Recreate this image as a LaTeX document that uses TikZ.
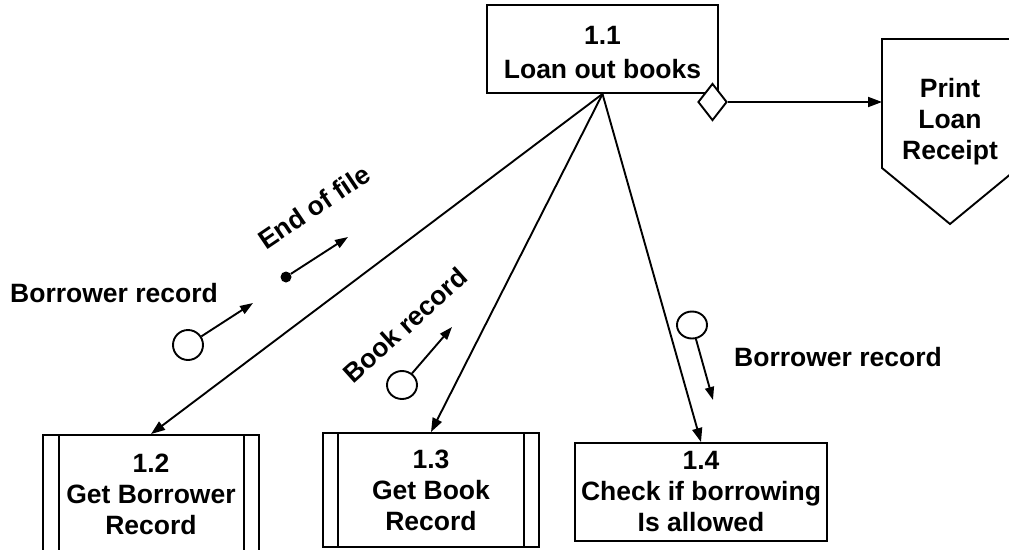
\documentclass[tikz,border=0pt]{standalone}
\usepackage{fontspec}
\setmainfont{Liberation Sans}
\usetikzlibrary{arrows.meta,shapes.geometric,calc}
\begin{document}
\begin{tikzpicture}[x=1pt,y=-1pt,
  every node/.style={font=\fontsize{26.5}{31}\selectfont\bfseries, align=center},
  proc/.style={draw, line width=1.9pt, inner sep=0pt},
  edge/.style={line width=1.9pt},
  flow/.style={line width=1.9pt, -{Triangle[length=14pt,width=10pt]}},
  couple/.style={line width=1.9pt, -{Triangle[length=13pt,width=9pt]}},
  datacouple/.style={draw, ellipse, line width=1.9pt, fill=white, minimum width=30pt, minimum height=30pt, inner sep=0pt},
  flagcouple/.style={circle, fill=black, inner sep=0pt, minimum size=11pt}]
\useasboundingbox (0,0) rectangle (1009,549);
\clip (0,0) rectangle (1009,549);

% top module
\node[proc, minimum width=231pt, minimum height=88pt] (b11) at (602.5,49) {};
\node (t11) at (602.5,53) {1.1\\[3pt]Loan out books};

% output module (pentagon, running past the right edge)
\draw[edge] (882,39) -- (1018,39) -- (1018,168) -- (950,224) -- (882,168) -- cycle;
\coordinate (plrin) at (882,102);
\node (plr) at (950,122) {Print\\Loan\\Receipt};

% condition diamond and its call
\node[draw, diamond, line width=1.9pt, fill=white, inner sep=0pt,
      minimum width=29pt, minimum height=37pt] (dm) at (712.5,102) {};
\draw[flow] (dm.east) -- (plrin);

% lower modules
\node[proc, minimum width=216pt, minimum height=130pt] (b12) at (151,500) {};
\draw[edge] ($(b12.north west)+(17,0)$) -- ($(b12.south west)+(17,0)$);
\draw[edge] ($(b12.north east)+(-16,0)$) -- ($(b12.south east)+(-16,0)$);
\node (t12) at (151,494) {1.2\\Get Borrower\\Record};

\node[proc, minimum width=216pt, minimum height=114pt] (b13) at (431,490) {1.3\\Get Book\\Record};
\draw[edge] ($(b13.north west)+(16,0)$) -- ($(b13.south west)+(16,0)$);
\draw[edge] ($(b13.north east)+(-16,0)$) -- ($(b13.south east)+(-16,0)$);

\node[proc, minimum width=252pt, minimum height=98pt] (b14) at (701,492) {1.4\\Check if borrowing\\Is allowed};

% calls
\draw[flow] (b11.south) -- (b12.north);
\draw[flow] (b11.south) -- (b13.north);
\draw[flow] (b11.south) -- (b14.north);

% couples
\node[datacouple] (s1) at (188,345) {};
\coordinate (s1e) at (253,303);
\draw[couple] (s1) -- (s1e);

\node[flagcouple] (eof) at (286,277) {};
\coordinate (eofe) at (348,237);
\draw[couple] (eof) -- (eofe);

\node[datacouple, minimum height=28pt] (s2) at (402,385) {};
\coordinate (s2e) at (452,327);
\draw[couple] (s2) -- (s2e);

\node[datacouple, minimum height=27pt] (s3) at (692,325) {};
\coordinate (s3e) at (713,400);
\draw[couple] (s3) -- (s3e);

% couple labels
\node[anchor=base] (l1) at (114,302) {Borrower record};
\node[anchor=base] (l4) at (838,366) {Borrower record};
\node[rotate=34] (l2) at (314,207) {End of file};
\node[rotate=42] (l3) at (405,325) {Book record};
\end{tikzpicture}
\end{document}
